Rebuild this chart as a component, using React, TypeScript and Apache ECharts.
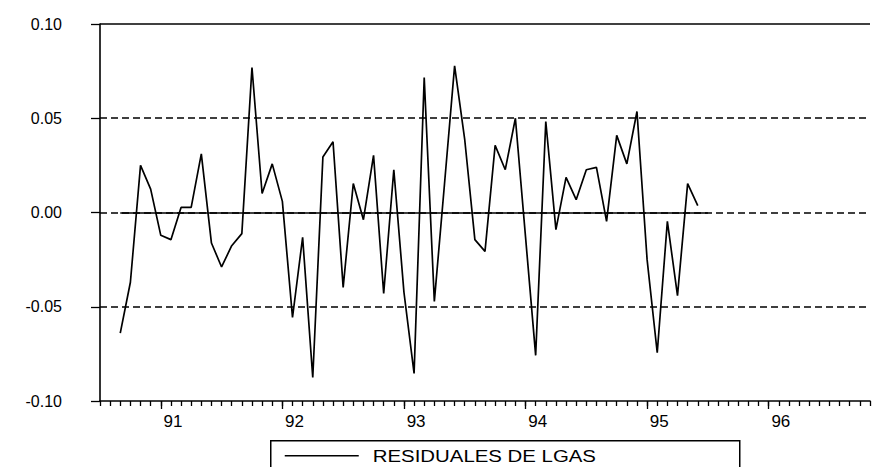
import React, { useEffect, useRef } from "react";
import * as echarts from "echarts";

// Monthly residuals, 1990M09 .. 1995M06
const startMonthIndex = 8; // months since 1990M01 (1990M09)
const residuals: number[] = [
  -0.064, -0.037, 0.025, 0.0124, -0.0121, -0.0144, 0.0027, 0.0027, 0.0311, -0.0162,
  -0.0289, -0.0176, -0.0112, 0.0769, 0.0101, 0.0258, 0.0059, -0.0557, -0.0132, -0.0875,
  0.0294, 0.0375, -0.0397, 0.0154, -0.0038, 0.0303, -0.043, 0.0227, -0.0423, -0.0854,
  0.0716, -0.0472, 0.015, 0.0778, 0.0386, -0.0144, -0.0206, 0.0356, 0.0227, 0.05,
  -0.0129, -0.0758, 0.0483, -0.0091, 0.0186, 0.0068, 0.0227, 0.0239, -0.0047, 0.0409,
  0.0258, 0.0536, -0.025, -0.0744, -0.0047, -0.0441, 0.0153, 0.0036,
];
const yearLabels: string[] = ["91", "92", "93", "94", "95", "96"];
const yearStartValues: number[] = [12, 24, 36, 48, 60, 72];
const seriesName = "RESIDUALES DE LGAS";

const FONT = "'Liberation Sans', Arial, Helvetica, sans-serif";

export default function App() {
  const ref = useRef<HTMLDivElement>(null);
  useEffect(() => {
    if (!ref.current) return;
    const chart = echarts.init(ref.current, undefined, { renderer: "svg" });
    const data = residuals.map((v, i) => [startMonthIndex + i, v]);
    const labelValues = yearStartValues.map((v) => v + 1.2);
    const lastX = startMonthIndex + residuals.length;
    const dash = [7, 4];
    chart.setOption({
      animation: false,
      backgroundColor: "#fff",
      textStyle: { fontFamily: FONT },
      grid: { left: 100, right: 2, top: 24, bottom: 66, containLabel: false },
      graphic: [
        {
          type: "group",
          left: 270,
          top: 440,
          children: [
            {
              type: "rect",
              shape: { x: 0, y: 0, width: 469, height: 45 },
              style: { fill: "#fff", stroke: "#000", lineWidth: 1.5 },
            },
            {
              type: "line",
              shape: { x1: 14, y1: 15, x2: 88, y2: 15 },
              style: { stroke: "#000", lineWidth: 1.7 },
            },
            {
              type: "text",
              x: 102,
              y: 15,
              scaleX: 1.2,
              style: {
                text: seriesName,
                fill: "#000",
                fontSize: 17,
                fontFamily: FONT,
                verticalAlign: "middle",
                align: "left",
              },
            },
          ],
        },
      ],
      xAxis: [
        {
          type: "value",
          min: 6,
          max: 82,
          interval: 1,
          position: "bottom",
          axisLine: { show: true, onZero: false, lineStyle: { color: "#000", width: 1.6 } },
          axisTick: { show: true, inside: false, length: 5, lineStyle: { color: "#000", width: 1.3 } },
          axisLabel: { show: false },
          splitLine: { show: false },
        },
        {
          type: "value",
          min: 6,
          max: 82,
          position: "bottom",
          axisLine: { show: false, onZero: false },
          axisTick: {
            show: true,
            inside: false,
            length: 8,
            customValues: yearStartValues,
            lineStyle: { color: "#000", width: 1.3 },
          },
          axisLabel: {
            show: true,
            customValues: labelValues,
            margin: 12,
            color: "#000",
            fontSize: 17,
            fontFamily: FONT,
            formatter: (v: number) => {
              const idx = labelValues.findIndex((lv) => Math.abs(lv - v) < 0.01);
              return idx >= 0 ? yearLabels[idx] : "";
            },
          },
          splitLine: { show: false },
        },
      ],
      yAxis: {
        type: "value",
        min: -0.1,
        max: 0.1,
        interval: 0.05,
        axisLine: { show: true, onZero: false, lineStyle: { color: "#000", width: 1.6 } },
        axisTick: { show: true, inside: false, length: 9, lineStyle: { color: "#000", width: 1.3 } },
        axisLabel: {
          margin: 38,
          color: "#000",
          fontSize: 16,
          fontFamily: FONT,
          formatter: (v: number) => v.toFixed(2),
        },
        splitLine: { show: false },
      },
      series: [
        {
          name: seriesName,
          type: "line",
          xAxisIndex: 0,
          data,
          symbol: "none",
          showSymbol: false,
          lineStyle: { color: "#000", width: 1.7 },
          itemStyle: { color: "#000" },
          z: 5,
          markLine: {
            silent: true,
            symbol: ["none", "none"],
            label: { show: false },
            animation: false,
            data: [
              { yAxis: 0.05, lineStyle: { type: dash, color: "#000", width: 1.5 } },
              { yAxis: -0.05, lineStyle: { type: dash, color: "#000", width: 1.5 } },
              { yAxis: 0, lineStyle: { type: dash, color: "#000", width: 1.5 } },
              { yAxis: 0.1, lineStyle: { type: "solid", color: "#000", width: 1.6 } },
              [
                { coord: [startMonthIndex, 0], lineStyle: { type: "solid", color: "#000", width: 1.6 } },
                { coord: [lastX, 0] },
              ],
            ],
          },
        },
      ],
    });
    return () => chart.dispose();
  }, []);
  return (
    <div
      ref={ref}
      style={{ position: "fixed", left: 0, top: 0, width: 872, height: 467, background: "#fff" }}
    />
  );
}
